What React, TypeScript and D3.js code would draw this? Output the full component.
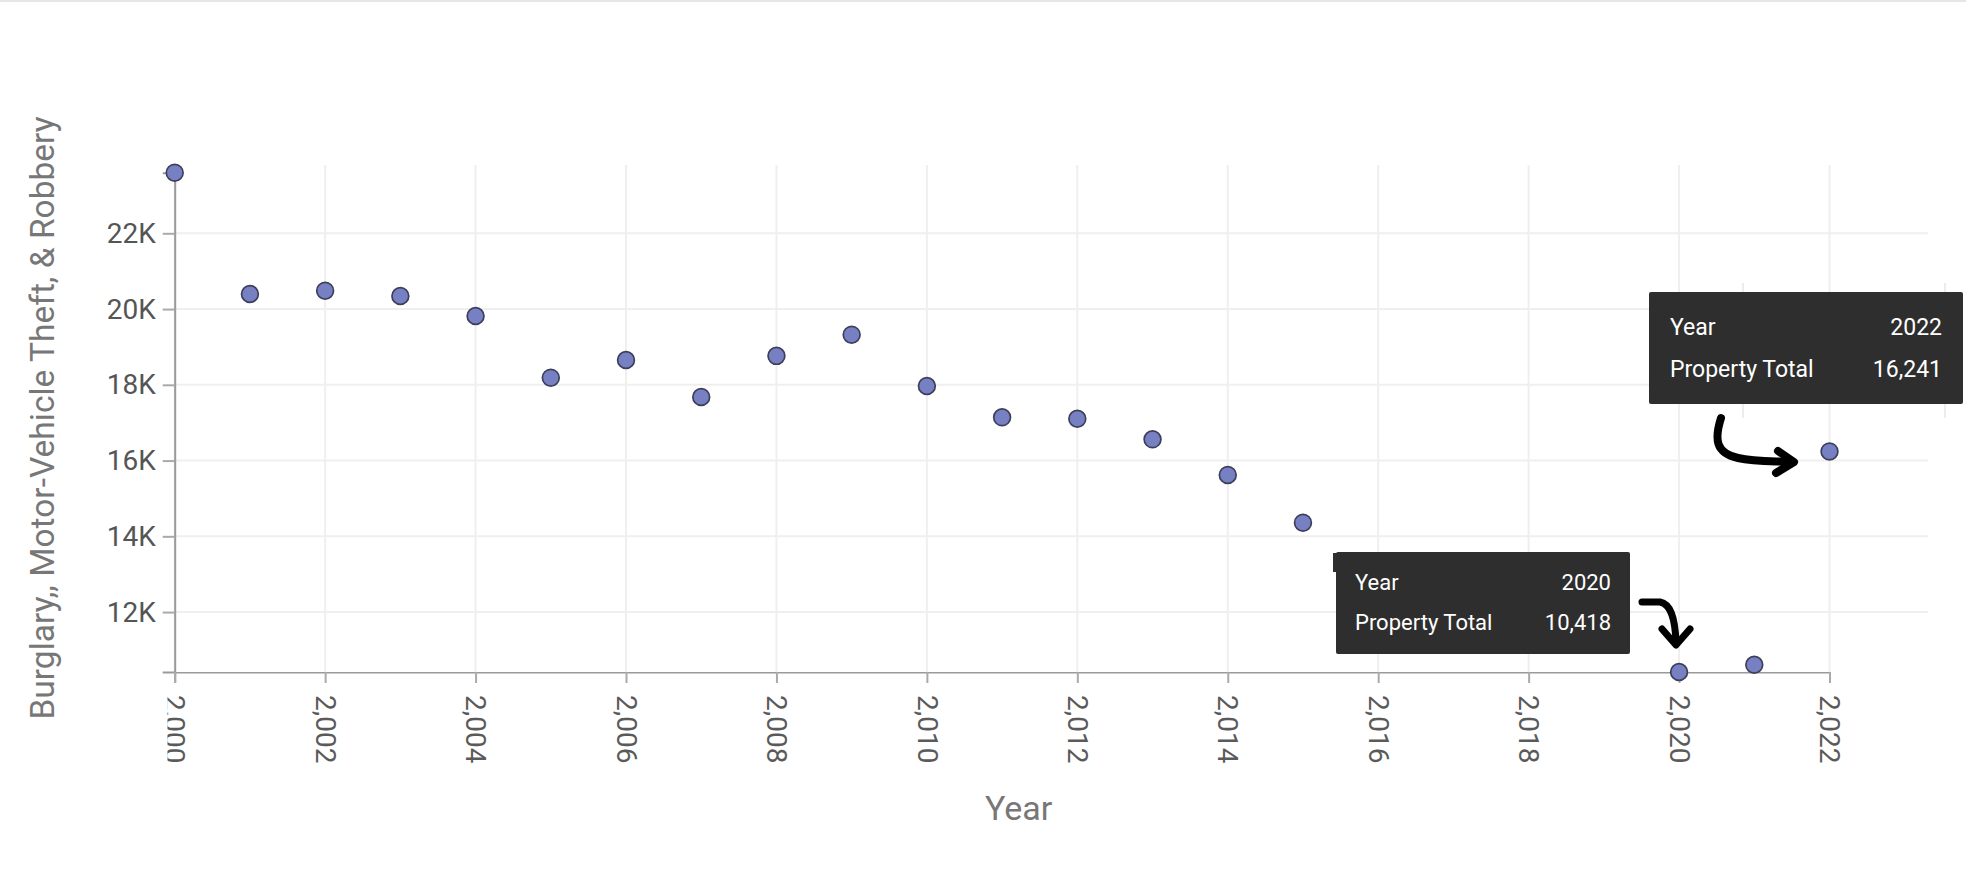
import React, { useEffect, useRef } from "react";
import * as d3 from "d3";

const years = [2000, 2001, 2002, 2003, 2004, 2005, 2006, 2007, 2008, 2009, 2010, 2011, 2012, 2013, 2014, 2015, 2016, 2017, 2018, 2019, 2020, 2021, 2022];
const propertyTotal = [23600, 20398, 20485, 20345, 19817, 18188, 18655, 17678, 18765, 19323, 17968, 17142, 17105, 16561, 15620, 14360, 13100, 12700, 12000, 11600, 10418, 10610, 16241];
const yTicks = [12000, 14000, 16000, 18000, 20000, 22000];
const xTicks = [2000, 2002, 2004, 2006, 2008, 2010, 2012, 2014, 2016, 2018, 2020, 2022];
const yTitle = "Burglary,, Motor-Vehicle Theft, & Robbery";
const xTitle = "Year";
const tooltipYears = [2022, 2020];

const W = 1966;
const H = 889;
const FONT = "Roboto, 'Noto Sans', sans-serif";

export default function App() {
  const ref = useRef<SVGSVGElement | null>(null);

  useEffect(() => {
    const svg = d3.select(ref.current);
    svg.selectAll("*").remove();

    const x = d3.scaleLinear().domain([2000, 2022]).range([174.7, 1829.5]);
    const y = d3.scaleLinear().domain(d3.extent(propertyTotal) as [number, number]).range([672, 172.7]);
    const gridRight = 1928;
    const gridTop = 165;

    // top separator line
    svg.append("line").attr("x1", 0).attr("x2", W).attr("y1", 1).attr("y2", 1)
      .attr("stroke", "#e6e6e6").attr("stroke-width", 2);

    // gridlines
    const grid = svg.append("g");
    grid.selectAll("line.h").data(yTicks).join("line").attr("class", "h")
      .attr("x1", x(2000)).attr("x2", gridRight)
      .attr("y1", d => y(d)).attr("y2", d => y(d))
      .attr("stroke", "#efefef").attr("stroke-width", 2);
    grid.selectAll("line.v").data(xTicks).join("line").attr("class", "v")
      .attr("x1", d => x(d)).attr("x2", d => x(d))
      .attr("y1", gridTop).attr("y2", y.range()[0])
      .attr("stroke", "#efefef").attr("stroke-width", 2);

    // clip for x labels
    const defs = svg.append("defs");
    defs.append("clipPath").attr("id", "xclip").append("rect")
      .attr("x", 167.5).attr("y", 0).attr("width", W).attr("height", H);

    // y axis
    const yAxis = svg.append("g").attr("transform", `translate(${x(2000)},0)`)
      .call(d3.axisLeft(y).tickValues(yTicks).tickFormat(d => `${(d as number) / 1000}K`).tickSize(12).tickPadding(7));
    yAxis.selectAll("path.domain").attr("stroke", "#9a9a9a").attr("stroke-width", 2);
    yAxis.selectAll(".tick line").attr("stroke", "#aaaaaa").attr("stroke-width", 2);
    yAxis.selectAll(".tick text").attr("fill", "#555").attr("font-size", 28).attr("font-family", FONT);

    // x axis
    const xAxis = svg.append("g").attr("transform", `translate(0,${y.range()[0]})`)
      .attr("clip-path", "url(#xclip)")
      .call(d3.axisBottom(x).tickValues(xTicks).tickFormat(d3.format(",") as any).tickSize(11));
    xAxis.selectAll("path.domain").attr("stroke", "#9a9a9a").attr("stroke-width", 2);
    xAxis.selectAll(".tick line").attr("stroke", "#aaaaaa").attr("stroke-width", 2);
    xAxis.selectAll(".tick text")
      .attr("fill", "#5a5a5a").attr("font-size", 28).attr("font-family", FONT)
      .attr("transform", "rotate(90)")
      .attr("text-anchor", "start")
      .attr("x", 23).attr("y", 0).attr("dy", "0.35em");

    // axis titles
    svg.append("text").attr("x", 1018.7).attr("y", 820).attr("text-anchor", "middle")
      .attr("font-family", FONT).attr("font-size", 34).attr("fill", "#777").text(xTitle);
    svg.append("text").attr("transform", "translate(54,418) rotate(-90)").attr("text-anchor", "middle")
      .attr("font-family", FONT).attr("font-size", 33.5).attr("fill", "#777").text(yTitle);

    // points
    svg.append("g").selectAll("circle").data(years).join("circle")
      .attr("cx", d => x(d)).attr("cy", (d, i) => y(propertyTotal[i]))
      .attr("r", 8.4)
      .attr("fill", "#7880c4").attr("stroke", "#3c3f5a").attr("stroke-width", 1.7);

    // tooltip ghosts
    const ghost = svg.append("g").attr("stroke", "#ececec").attr("stroke-width", 2);
    ghost.append("line").attr("x1", 1945).attr("x2", 1945).attr("y1", 283).attr("y2", 418);
    ghost.append("line").attr("x1", 1743).attr("x2", 1743).attr("y1", 283).attr("y2", 418);

    const fmt = d3.format(",");
    const tips = [
      { x0: 1649, y0: 292, w: 314, h: 112, fs: 23, pad: 21, b1: 335, b2: 377 },
      { x0: 1336, y0: 552, w: 294, h: 102, fs: 22, pad: 19, b1: 590, b2: 630 },
    ];
    tooltipYears.forEach((yr, k) => {
      const t = tips[k];
      const v = propertyTotal[years.indexOf(yr)];
      const g = svg.append("g");
      if (k === 1) {
        g.append("rect").attr("x", 1333).attr("y", 553).attr("width", 8).attr("height", 19).attr("fill", "#2f2f2f");
      }
      g.append("rect").attr("x", t.x0).attr("y", t.y0).attr("width", t.w).attr("height", t.h)
        .attr("rx", 2).attr("fill", "#2e2e2e");
      const rows = [["Year", String(yr), t.b1], ["Property Total", fmt(v), t.b2]] as [string, string, number][];
      rows.forEach(([label, val, by]) => {
        g.append("text").attr("x", t.x0 + t.pad).attr("y", by).attr("fill", "#fff")
          .attr("font-family", FONT).attr("font-size", t.fs).text(label);
        g.append("text").attr("x", t.x0 + t.w - t.pad).attr("y", by).attr("fill", "#fff")
          .attr("text-anchor", "end").attr("font-family", FONT).attr("font-size", t.fs).text(val);
      });
    });

    // hand-drawn arrows
    const arrows = svg.append("g").attr("fill", "none").attr("stroke", "#000")
      .attr("stroke-linecap", "round").attr("stroke-linejoin", "round");
    arrows.append("path").attr("stroke-width", 8)
      .attr("d", "M1721,418 C1714,440 1716,453 1738,458 C1755,462 1775,461 1792,462");
    arrows.append("path").attr("stroke-width", 8)
      .attr("d", "M1778,451 L1794,462 L1776,473");
    arrows.append("path").attr("stroke-width", 7)
      .attr("d", "M1642,602 L1660,602 C1670,604 1675,616 1676,642");
    arrows.append("path").attr("stroke-width", 7)
      .attr("d", "M1662,629 L1676,645 L1690,629");
  }, []);

  return (
    <svg ref={ref} width={W} height={H}
      style={{ position: "absolute", left: 0, top: 0, background: "#fff" }} />
  );
}
